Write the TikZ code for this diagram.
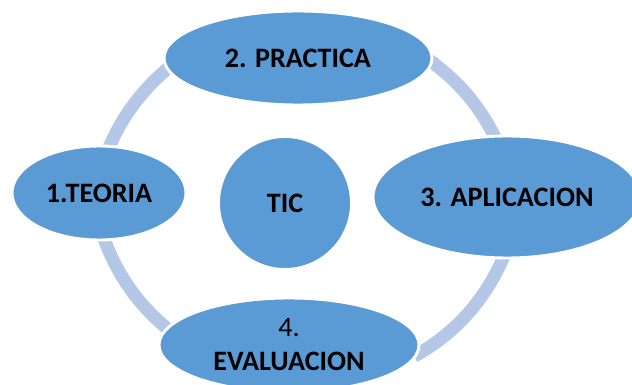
\documentclass[tikz,border=0pt]{standalone}
\usepackage{fontspec}
\setmainfont{Carlito}
\usetikzlibrary{shapes.geometric,backgrounds}
\definecolor{azulnodo}{RGB}{91,155,213}
\definecolor{azulanillo}{RGB}{180,199,231}

\begin{document}
\begin{tikzpicture}[x=0.03cm, y=0.03cm,
    etapa/.style={ellipse, draw=white, line width=2.5pt, fill=azulnodo, inner sep=0pt, align=center, font=\fontsize{24}{29}\selectfont\bfseries},
    centro/.style={circle, draw=white, line width=2.5pt, fill=azulnodo, inner sep=0pt, minimum size=3.99cm, font=\fontsize{24}{29}\selectfont\bfseries},
    anillo/.style={draw=azulanillo, line width=11pt, looseness=0.87, shorten <=-4pt, shorten >=-4pt}
]
    \useasboundingbox (0,0) rectangle (632,385);

    % Stages
    \node[etapa, minimum width=5.22cm, minimum height=2.82cm] (teoria) at (99,192) {1.TEORIA};
    \node[etapa, minimum width=8.04cm, minimum height=2.82cm] (practica) at (298,327) {2. PRACTICA};
    \node[etapa, minimum width=8.04cm, minimum height=3.66cm] (aplicacion) at (507,188) {3. APLICACION};
    \node[etapa, minimum width=7.8cm, minimum height=2.82cm] (evaluacion) at (289,40) {{\mdseries 4.}\\EVALUACION};

    % Centre
    \node[centro] (tic) at (285,182) {TIC};

    % Ring segments between the stages
    \begin{scope}[on background layer]
        \draw[anillo] (teoria.77) to[out=67, in=220] (practica.185);
        \draw[anillo] (practica.358) to[out=-36, in=116] (aplicacion.102);
        \draw[anillo] (aplicacion.266) to[out=-113, in=29] (evaluacion.356);
        \draw[anillo] (evaluacion.172) to[out=141, in=290] (teoria.277);
    \end{scope}
\end{tikzpicture}
\end{document}
